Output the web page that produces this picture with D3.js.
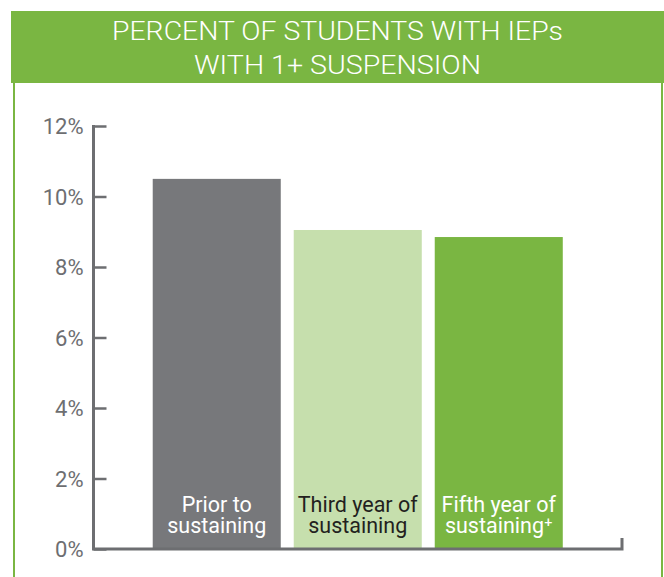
<!DOCTYPE html>
<html>
<head>
<meta charset="utf-8">
<script src="https://cdn.jsdelivr.net/npm/d3@7"></script>
<style>
  html, body { margin: 0; padding: 0; background: #fff; }
  svg { display: block; font-family: Roboto, "Noto Sans", sans-serif; }
</style>
</head>
<body>
<svg id="chart" width="664" height="577"></svg>
<script>
// Chart data
const titleLines = ["PERCENT OF STUDENTS WITH IEPs", "WITH 1+ SUSPENSION"];
const categories = ["Prior to sustaining", "Third year of sustaining", "Fifth year of sustaining"];
const labelLines = [["Prior to", "sustaining"], ["Third year of", "sustaining"], ["Fifth year of", "sustaining⁺"]];
const values = [10.5, 9.05, 8.85];
const yTicks = [0, 2, 4, 6, 8, 10, 12];

const fills = ["#77787b", "#c6dfad", "#7ab642"];
const labelColors = ["#ffffff", "#231f20", "#ffffff"];
const green = "#7ab642";
const axisGray = "#6d6e71";

const svg = d3.select("#chart");

// Panel frame: header band and side borders
svg.append("rect").attr("x", 11).attr("y", 11).attr("width", 653).attr("height", 72).attr("fill", green);
svg.append("rect").attr("x", 13).attr("y", 83).attr("width", 2).attr("height", 494).attr("fill", green);
svg.append("rect").attr("x", 661).attr("y", 83).attr("width", 2).attr("height", 494).attr("fill", green);

// Title
const titleWidths = [451, 287];
titleLines.forEach((t, i) => {
  svg.append("text")
    .attr("x", 337.5).attr("y", 40 + i * 34)
    .attr("text-anchor", "middle")
    .attr("fill", "#ffffff")
    .attr("font-size", 26)
    .attr("font-weight", 300)
    .attr("textLength", titleWidths[i])
    .attr("lengthAdjust", "spacingAndGlyphs")
    .text(t);
});

// Scales
const y = d3.scaleLinear().domain([0, 12]).range([549, 126]);
const x = d3.scaleBand().domain(categories).range([93.5, 622]).paddingInner(0.092).paddingOuter(0.42);

// Bars
svg.append("g").selectAll("rect").data(values).join("rect")
  .attr("x", (d, i) => x(categories[i]))
  .attr("width", x.bandwidth())
  .attr("y", d => y(d))
  .attr("height", d => y(0) - y(d))
  .attr("fill", (d, i) => fills[i]);

// Bar labels
labelLines.forEach((lines, i) => {
  const cx = x(categories[i]) + x.bandwidth() / 2;
  lines.forEach((l, j) => {
    svg.append("text")
      .attr("x", cx).attr("y", 512 + j * 21)
      .attr("text-anchor", "middle")
      .attr("font-size", 21.5)
      .attr("fill", labelColors[i])
      .text(l);
  });
});

// Y axis
const yAxis = d3.axisRight(y).tickValues(yTicks).tickSize(13).tickFormat(d => d + "%");
const gy = svg.append("g").attr("transform", "translate(93.5,0)").call(yAxis);
gy.select(".domain").remove();
gy.selectAll(".tick line").attr("stroke", axisGray).attr("stroke-width", 2.5);
gy.selectAll(".tick text")
  .attr("x", -10).attr("text-anchor", "end")
  .attr("fill", axisGray).attr("font-size", 22)
  .attr("font-family", "Roboto, sans-serif")
  .attr("dy", "0.36em");

// Axis lines
svg.append("path")
  .attr("d", `M93.5,${y(12) - 1}V${y(0)}H622V${y(0) - 11}`)
  .attr("fill", "none").attr("stroke", axisGray).attr("stroke-width", 3);
</script>
</body>
</html>
